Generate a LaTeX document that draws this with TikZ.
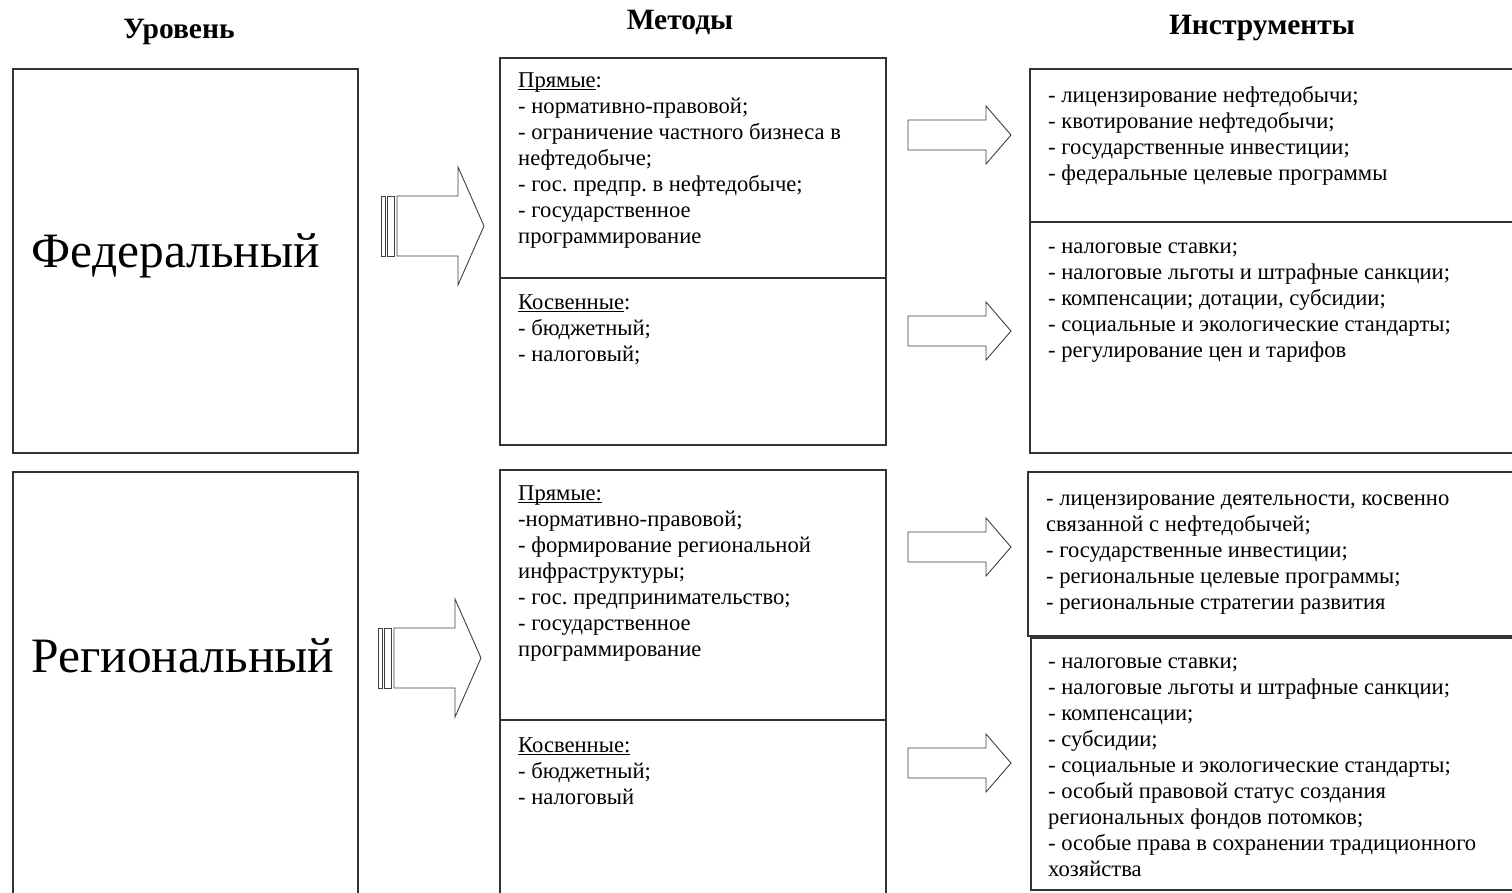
\documentclass[tikz,border=0pt]{standalone}
\usepackage{fontspec}
\setmainfont{Liberation Serif}
\usetikzlibrary{positioning}
\frenchspacing

\tikzset{
  bigarrow/.pic={
    \draw[arrowline] (0,-30) -- (61,-30) -- (61,-59) -- (87,0) -- (61,59) -- (61,30) -- (0,30) -- cycle;
    \draw[arrowline] (-16,-30) rectangle (-12,30);
    \draw[arrowline] (-10,-30) rectangle (-3,30);
  },
  smallarrow/.pic={
    \draw[arrowline] (0,-15) -- (78,-15) -- (78,-29) -- (103,0) -- (78,29) -- (78,15) -- (0,15) -- cycle;
  }
}

\begin{document}
\begin{tikzpicture}[x=1pt, y=-1pt,
                    box/.style= {draw=black!80,
                      line width=1.3pt,
                      anchor=north west,
                      inner sep=0pt,
                      outer sep=0pt},
                    txt/.style= {anchor=north west,
                      align=left,
                      inner sep=0pt,
                      font=\fontsize{22.6}{26}\selectfont},
                    head/.style= {inner sep=0pt,
                      font=\fontsize{29.5}{33}\selectfont\bfseries},
                    level/.style= {anchor=base,
                      inner sep=0pt,
                      font=\fontsize{49.5}{57}\selectfont},
                    arrowline/.style= {draw=black!75,
                      line width=0.9pt,
                      fill=white}]

  \useasboundingbox (0,0) rectangle (1512,893);
  \clip (0,0) rectangle (1512,893);

  % column heads
  \node[head] (hlevel) at (179,32) {Уровень};
  \node[head] (hmeth) at (680,22) {Методы};
  \node[head] (hinst) at (1262,28) {Инструменты};

  % level boxes
  \node[box, minimum width=345pt, minimum height=384pt] (fedlvl) at (13,69) {};
  \node[box, minimum width=345pt, minimum height=440pt] (reglvl) at (13,472) {};
  \node[level] (fedname) at (176,268) {Федеральный};
  \node[level] (regname) at (183,672) {Региональный};

  % method boxes
  \node[box, minimum width=386pt, minimum height=220pt] (fedmethA) at (500,58) {};
  \node[box, minimum width=386pt, minimum height=167pt] (fedmethB) at (500,278) {};
  \node[box, minimum width=386pt, minimum height=250pt] (regmethA) at (500,470) {};
  \node[box, minimum width=386pt, minimum height=200pt] (regmethB) at (500,720) {};

  % instrument boxes
  \node[box, minimum width=500pt, minimum height=153pt] (fedinsA) at (1030,69) {};
  \node[box, minimum width=500pt, minimum height=231pt] (fedinsB) at (1030,222) {};
  \node[box, minimum width=500pt, minimum height=164pt] (reginsA) at (1028,472) {};
  \node[box, minimum width=500pt, minimum height=252pt] (reginsB) at (1031,638) {};

  % texts (first baseline about 30pt below the box top)
  \node[txt] (fedmethAtxt) at ([xshift=18pt, yshift=-11.5pt]fedmethA.north west)
    {\strut\underline{\smash{Прямые}}:\\
     - нормативно-правовой;\\
     - ограничение частного бизнеса в\\
     нефтедобыче;\\
     - гос. предпр. в нефтедобыче;\\
     - государственное\\
     программирование};
  \node[txt] (fedmethBtxt) at ([xshift=18pt, yshift=-13pt]fedmethB.north west)
    {\strut\underline{\smash{Косвенные}}:\\
     - бюджетный;\\
     - налоговый;};
  \node[txt] (fedinsAtxt) at ([xshift=18pt, yshift=-15.5pt]fedinsA.north west)
    {\strut- лицензирование нефтедобычи;\\
     - квотирование нефтедобычи;\\
     - государственные инвестиции;\\
     - федеральные целевые программы};
  \node[txt] (fedinsBtxt) at ([xshift=18pt, yshift=-13.5pt]fedinsB.north west)
    {\strut- налоговые ставки;\\
     - налоговые льготы и штрафные санкции;\\
     - компенсации; дотации, субсидии;\\
     - социальные и экологические стандарты;\\
     - регулирование цен и тарифов};
  \node[txt] (regmethAtxt) at ([xshift=18pt, yshift=-12.5pt]regmethA.north west)
    {\strut\underline{\smash{Прямые:}}\\
     -нормативно-правовой;\\
     - формирование региональной\\
     инфраструктуры;\\
     - гос. предпринимательство;\\
     - государственное\\
     программирование};
  \node[txt] (regmethBtxt) at ([xshift=18pt, yshift=-14pt]regmethB.north west)
    {\strut\underline{\smash{Косвенные:}}\\
     - бюджетный;\\
     - налоговый};
  \node[txt] (reginsAtxt) at ([xshift=18pt, yshift=-15.5pt]reginsA.north west)
    {\strut- лицензирование деятельности, косвенно\\
     связанной с нефтедобычей;\\
     - государственные инвестиции;\\
     - региональные целевые программы;\\
     - региональные стратегии развития};
  \node[txt] (reginsBtxt) at ([xshift=17pt, yshift=-12.5pt]reginsB.north west)
    {\strut- налоговые ставки;\\
     - налоговые льготы и штрафные санкции;\\
     - компенсации;\\
     - субсидии;\\
     - социальные и экологические стандарты;\\
     - особый правовой статус создания\\
     региональных фондов потомков;\\
     - особые права в сохранении традиционного\\
     хозяйства};

  % arrows
  \pic at (397,226) {bigarrow};
  \pic at (394,658) {bigarrow};
  \pic at (908,135) {smallarrow};
  \pic at (908,331) {smallarrow};
  \pic at (908,547) {smallarrow};
  \pic at (908,763) {smallarrow};
\end{tikzpicture}
\end{document}
